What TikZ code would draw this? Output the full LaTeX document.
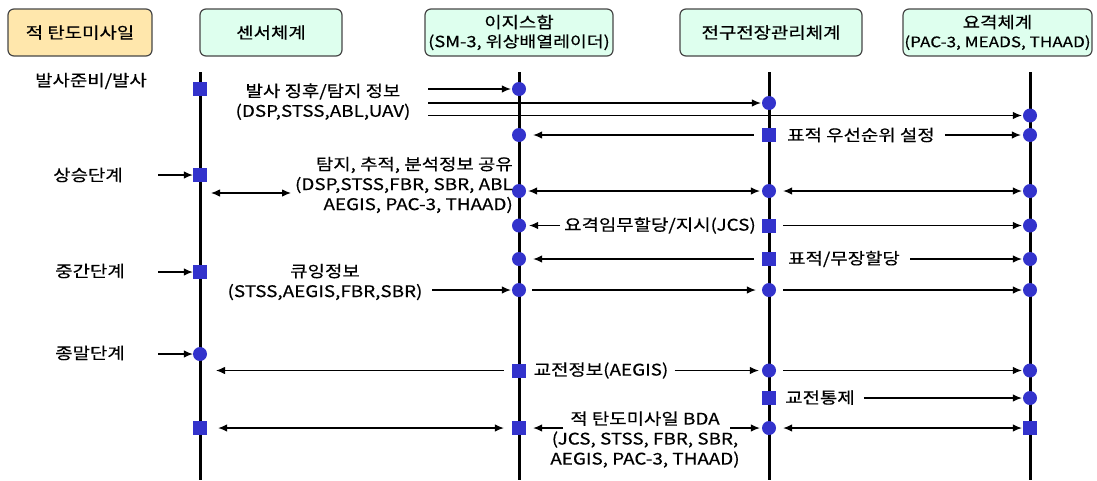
\documentclass[tikz,border=0pt]{standalone}
\usepackage{fontspec}
\setmainfont[FakeStretch=1.18,FakeBold=0.4]{Noto Sans CJK KR}
\usetikzlibrary{arrows.meta}
\definecolor{mk}{RGB}{51,51,204}
\definecolor{orfill}{RGB}{255,231,172}
\definecolor{mtfill}{RGB}{222,255,238}
\definecolor{bd}{RGB}{70,70,70}
\tikzset{
  hdr/.style={draw=bd, line width=1.2pt, rounded corners=6pt, minimum height=47pt,
    align=center, inner sep=1pt, font=\fontsize{16}{20}\selectfont},
  life/.style={line width=3pt},
  dotmk/.style={circle, fill=mk, minimum size=14pt, inner sep=0pt},
  sqmk/.style={rectangle, fill=mk, minimum size=14pt, inner sep=0pt},
  lbl/.style={font=\fontsize{16}{20}\selectfont, inner sep=1pt, align=center},
  arr/.style={line width=1.1pt, -{Latex[length=9pt,width=7.5pt]}},
  darr/.style={line width=1.1pt, {Latex[length=9pt,width=7.5pt]}-{Latex[length=9pt,width=7.5pt]}},
}
\begin{document}
\begin{tikzpicture}[x=1pt,y=-1pt]
\useasboundingbox (0,0) rectangle (1097,480);
% headers
\node[hdr, fill=orfill, minimum width=144pt] (h1) at (80,32.5) {적 탄도미사일};
\node[hdr, fill=mtfill, minimum width=142pt] (h2) at (271,32.5) {센서체계};
\node[hdr, fill=mtfill, minimum width=188pt] (h3) at (519,32.5) {이지스함\\[-1pt]{\fontsize{15.5}{18}\selectfont (SM-3, 위상배열레이더)}};
\node[hdr, fill=mtfill, minimum width=182pt] (h4) at (771,32.5) {전구전장관리체계};
\node[hdr, fill=mtfill, minimum width=189pt] (h5) at (997.5,32.5) {요격체계\\[-1pt]{\fontsize{14.5}{18}\selectfont (PAC-3, MEADS, THAAD)}};
% lifelines
\coordinate (t1) at (200,72); \coordinate (b1) at (200,480);
\coordinate (t2) at (519,72); \coordinate (b2) at (519,480);
\coordinate (t3) at (769,72); \coordinate (b3) at (769,480);
\coordinate (t4) at (1030,72); \coordinate (b4) at (1030,480);
\draw[life] (t1) -- (b1);
\draw[life] (t2) -- (b2);
\draw[life] (t3) -- (b3);
\draw[life] (t4) -- (b4);
% phase labels
\node[lbl] (pA) at (91,81) {발사준비/발사};
\node[lbl] (pE) at (88,175) {상승단계};
\node[lbl] (pM) at (90,271) {중간단계};
\node[lbl] (pT) at (90,353) {종말단계};
% markers
\node[sqmk] (sqA1) at (200,89) {};
\node[dotmk] (ciA2) at (519,89) {};
\node[dotmk] (ciB3) at (769,103) {};
\node[dotmk] (ciC4) at (1030,115.5) {};
\node[dotmk] (ciD2) at (519,135) {};
\node[sqmk] (sqD3) at (769,135) {};
\node[dotmk] (ciD4) at (1030,135) {};
\node[sqmk] (sqE1) at (200,175) {};
\node[dotmk] (ciF2) at (519,191) {};
\node[dotmk] (ciF3) at (769,191) {};
\node[dotmk] (ciF4) at (1030,191) {};
\node[dotmk] (ciG2) at (519,225.5) {};
\node[sqmk] (sqG3) at (769,225.5) {};
\node[dotmk] (ciG4) at (1030,225.5) {};
\node[dotmk] (ciH2) at (519,259) {};
\node[sqmk] (sqH3) at (769,259) {};
\node[dotmk] (ciH4) at (1030,259) {};
\node[sqmk] (sqM1) at (200,272) {};
\node[dotmk] (ciI2) at (519,290) {};
\node[dotmk] (ciI3) at (769,290) {};
\node[dotmk] (ciI4) at (1030,290) {};
\node[dotmk] (ciT1) at (200,354) {};
\node[sqmk] (sqJ2) at (519,370.5) {};
\node[dotmk] (ciJ3) at (769,370.5) {};
\node[dotmk] (ciJ4) at (1030,370.5) {};
\node[sqmk] (sqK3) at (769,398) {};
\node[dotmk] (ciK4) at (1030,398) {};
\node[sqmk] (sqL1) at (200,428) {};
\node[sqmk] (sqL2) at (519,428) {};
\node[dotmk] (ciL3) at (769,428) {};
\node[sqmk] (sqL4) at (1030,428) {};
% phase arrows
\coordinate (eS) at (158,175);
\coordinate (mS) at (158,272);
\coordinate (tS) at (158,354);
\draw[arr] (eS) -- (sqE1);
\draw[arr] (mS) -- (sqM1);
\draw[arr] (tS) -- (ciT1);
% texts
\node[lbl] (tA) at (323,101.7) {발사 징후/탐지 정보\\(DSP,STSS,ABL,UAV)};
\node[lbl, align=right, anchor=east] (tF) at (514,185) {탐지, 추적, 분석정보 공유\\(DSP,STSS,FBR, SBR, ABL\\AEGIS, PAC-3, THAAD)};
\node[lbl] (tD) at (861,135) {표적 우선순위 설정};
\node[lbl] (tG) at (660,225.5) {요격임무할당/지시(JCS)};
\node[lbl] (tH) at (844,259) {표적/무장할당};
\node[lbl] (tI) at (325,282) {큐잉정보\\(STSS,AEGIS,FBR,SBR)};
\node[lbl] (tJ) at (601,370.5) {교전정보(AEGIS)};
\node[lbl] (tK) at (820,397.5) {교전통제};
\node[lbl] (tL) at (645,439.5) {적 탄도미사일 BDA\\(JCS, STSS, FBR, SBR,\\AEGIS, PAC-3, THAAD)};
% row A-C
\coordinate (aA) at (428,89);
\coordinate (aB) at (428,103);
\coordinate (aC) at (428,115.5);
\draw[arr, shorten >=1pt] (aA) -- (ciA2);
\draw[arr, shorten >=1pt] (aB) -- (ciB3);
\draw[arr, shorten >=1pt] (aC) -- (ciC4);
% row D
\draw[arr, shorten <=8pt, shorten >=7pt] (sqD3) -- (ciD2);
\draw[arr, shorten <=9pt, shorten >=2pt] (tD.east |- ciD4) -- (ciD4);
% row F
\coordinate (fL) at (211,193);
\coordinate (fR) at (291,193);
\draw[darr] (fL) -- (fR);
\draw[darr, shorten <=2pt, shorten >=2pt] (ciF2) -- (ciF3);
\draw[darr, shorten <=7pt, shorten >=1pt] (ciF3) -- (ciF4);
% row G
\draw[arr, shorten <=3pt, shorten >=3pt] (tG.west |- ciG2) -- (ciG2);
\draw[arr, shorten <=7pt, shorten >=1pt] (sqG3) -- (ciG4);
% row H
\draw[arr, shorten <=8pt, shorten >=7pt] (sqH3) -- (ciH2);
\draw[arr, shorten <=9pt, shorten >=1pt] (tH.east |- ciH4) -- (ciH4);
% row I
\coordinate (aI) at (432,290);
\draw[arr, shorten >=1pt] (aI) -- (ciI2);
\draw[arr, shorten <=6pt, shorten >=6pt] (ciI2) -- (ciI3);
\draw[arr, shorten <=7pt, shorten >=1pt] (ciI3) -- (ciI4);
% row J
\coordinate (jL) at (216,370.5);
\draw[arr, shorten <=8pt] (sqJ2) -- (jL);
\draw[arr, shorten <=5pt, shorten >=3pt] (tJ.east |- ciJ3) -- (ciJ3);
\draw[arr, shorten <=7pt, shorten >=1pt] (ciJ3) -- (ciJ4);
% row K
\draw[arr, shorten <=8pt, shorten >=1pt] (tK.east |- ciK4) -- (ciK4);
% row L
\coordinate (lA) at (563,428);
\coordinate (lB) at (730,428);
\draw[darr, shorten <=11pt, shorten >=8pt] (sqL1) -- (sqL2);
\draw[arr, shorten >=7pt] (lA) -- (sqL2);
\draw[arr, shorten >=2pt] (lB) -- (ciL3);
\draw[darr, shorten <=7pt, shorten >=1pt] (ciL3) -- (sqL4);
\end{tikzpicture}
\end{document}
